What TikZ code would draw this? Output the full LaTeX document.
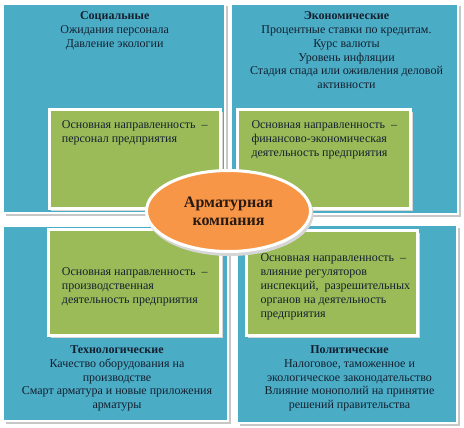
\documentclass[tikz,border=0pt]{standalone}
\usepackage{fontspec}
\setmainfont{Liberation Serif}
\usetikzlibrary{shapes.geometric}
\definecolor{qblue}{HTML}{4BACC6}
\definecolor{qgreen}{HTML}{9BBB59}
\definecolor{qorange}{HTML}{F79646}
\definecolor{qtext}{HTML}{13202E}
\definecolor{qcore}{HTML}{2A1A12}
\begin{document}
\begin{tikzpicture}[x=1pt,y=-1pt,
  quad/.style={draw=white, line width=2pt, fill=qblue},
  inner/.style={draw=white, line width=3pt, fill=qgreen},
  shade/.style={fill=black!22},
  lightshade/.style={fill=black!16},
  body/.style={font=\fontsize{12}{13.8}\selectfont, text=qtext, inner sep=0pt, align=center, anchor=north},
  gtext/.style={font=\fontsize{12}{14}\selectfont, text=qtext, inner sep=0pt, align=left, anchor=north west},
  core/.style={ellipse, draw=white, line width=3pt, fill=qorange, minimum width=164pt, minimum height=81pt, inner sep=0pt,
    font=\fontsize{16}{18.3}\selectfont\bfseries, text=qcore, align=center}]
\useasboundingbox (0,0) rectangle (464,428);
\fill[white] (0,0) rectangle (464,428);
% quadrant shadows
\fill[shade] (5.5,6.5) rectangle (227.5,215.5);
\fill[shade] (233.5,6.5) rectangle (460.5,216.5);
\fill[shade] (5.5,228.5) rectangle (230.5,423.5);
\fill[shade] (239.5,227.5) rectangle (459.5,425.5);
% quadrants
\path[quad] (3,4) rectangle (225,213);
\path[quad] (231,4) rectangle (458,214);
\path[quad] (3,226) rectangle (228,421);
\path[quad] (237,225) rectangle (457,423);
% inner box shadows
\fill[lightshade] (51,112) rectangle (222.5,211);
\fill[lightshade] (239.5,112) rectangle (413,210.5);
\fill[lightshade] (50.5,231) rectangle (222.5,338.2);
\fill[lightshade] (248.3,232.5) rectangle (419.5,337.5);
% inner boxes
\path[inner] (49,110) rectangle (220,208.5);
\path[inner] (237.5,110) rectangle (410.5,208);
\path[inner] (48.5,229) rectangle (220,335.7);
\path[inner] (246.3,230.5) rectangle (417,335);
% quadrant texts
\node[body] (soc) at (114.7,11.5) {\textbf{Социальные}\\Ожидания персонала\\Давление экологии};
\node[body] (eco) at (346.5,11.5) {\textbf{Экономические}\\Процентные ставки по кредитам.\\Курс валюты\\Уровень инфляции\\Стадия спада или оживления деловой\\активности};
\node[body] (tech) at (117,345.5) {\textbf{Технологические}\\Качество оборудования на\\производстве\\Смарт арматура и новые приложения\\арматуры};
\node[body] (pol) at (349.5,345.5) {\textbf{Политические}\\Налоговое, таможенное и\\экологическое законодательство\\Влияние монополий на принятие\\решений правительства};
% inner texts
\node[gtext] (gsoc) at (61.7,120) {Основная направленность\ \ –\\персонал предприятия};
\node[gtext] (geco) at (251.3,120) {Основная направленность\ \ –\\финансово-экономическая\\деятельность предприятия};
\node[gtext] (gtech) at (61.7,267.5) {Основная направленность\ \ –\\производственная\\деятельность предприятия};
\node[gtext] (gpol) at (260.3,253.3) {Основная направленность\ \ –\\влияние регуляторов\\инспекций,\ \ разрешительных\\органов на деятельность\\предприятия};
% centre
\fill[black!16] (230,214) ellipse [x radius=83.5, y radius=42];
\node[core] (company) at (228.5,211) {Арматурная\\компания};
\end{tikzpicture}
\end{document}
